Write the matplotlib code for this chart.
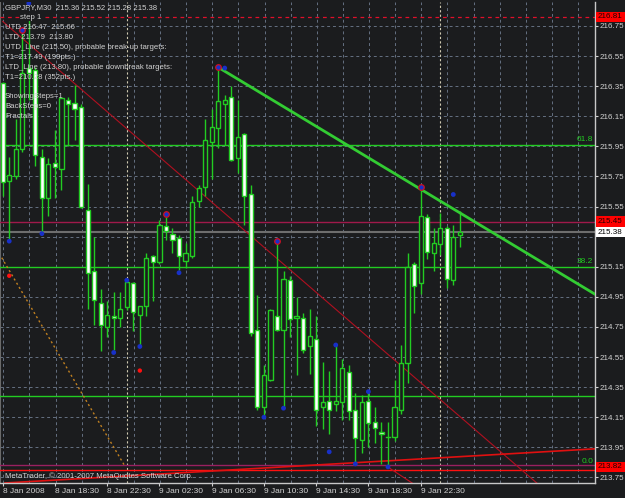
import matplotlib
matplotlib.use('Agg')
import matplotlib.pyplot as plt
from matplotlib.patches import Rectangle
from matplotlib.transforms import blended_transform_factory

# ---------------- data ----------------
opens = [216.37, 215.72, 215.75, 215.93, 216.47, 216.46, 215.88, 215.61, 215.84, 215.80,
         216.26, 216.24, 216.21, 215.53, 215.12, 214.91, 214.75, 214.82, 214.81, 214.88,
         215.04, 214.83, 214.89, 215.22, 215.18, 215.42, 215.37, 215.34, 215.19, 215.22,
         215.59, 215.68, 215.98, 216.07, 216.23, 216.28, 215.87, 216.03, 215.63, 214.73,
         214.22, 214.40, 214.82, 214.73, 215.06, 214.81, 214.81, 214.62, 214.67, 214.22,
         214.26, 214.24, 214.25, 214.45, 214.20, 214.00, 214.26, 214.12, 214.05, 214.02,
         214.02, 214.20, 214.51, 215.17, 215.04, 215.48, 215.24, 215.30, 215.41, 215.06,
         215.36]
highs = [216.38, 215.88, 216.13, 216.70, 216.81, 216.48, 215.93, 215.87, 216.06, 216.28,
         216.28, 216.36, 216.23, 215.70, 215.35, 215.00, 214.92, 214.98, 214.98, 215.06,
         215.05, 214.89, 215.24, 215.23, 215.46, 215.48, 215.41, 215.36, 215.31, 215.62,
         215.69, 216.13, 216.20, 216.48, 216.29, 216.35, 216.26, 216.04, 215.69, 214.96,
         214.50, 214.87, 215.31, 215.12, 215.09, 214.95, 214.84, 214.87, 214.82, 214.52,
         214.46, 214.63, 214.54, 214.50, 214.31, 214.30, 214.31, 214.22, 214.12, 214.12,
         214.40, 214.63, 215.24, 215.18, 215.66, 215.50, 215.41, 215.51, 215.42, 215.43,
         215.52]
lows = [215.62, 215.33, 215.73, 215.91, 216.26, 215.82, 215.38, 215.49, 215.61, 215.66,
        215.95, 215.99, 215.54, 214.87, 214.76, 214.59, 214.68, 214.60, 214.75, 214.86,
        214.72, 214.63, 214.82, 214.92, 215.17, 215.33, 215.24, 215.13, 215.14, 215.21,
        215.55, 215.62, 215.73, 215.94, 215.96, 215.85, 215.77, 215.43, 214.69, 214.20,
        214.16, 214.39, 214.72, 214.21, 214.68, 214.43, 214.58, 214.44, 214.09, 214.07,
        214.04, 214.19, 214.13, 214.13, 213.84, 213.91, 213.95, 213.98, 213.84, 213.83,
        213.99, 214.17, 214.38, 214.84, 214.97, 215.20, 215.12, 215.23, 215.01, 215.03,
        215.28]
closes = [215.71, 215.76, 215.93, 216.44, 216.44, 215.89, 215.61, 215.83, 215.81, 216.27,
          216.23, 216.20, 215.55, 215.11, 214.93, 214.76, 214.83, 214.81, 214.87, 215.05,
          214.85, 214.89, 215.21, 215.18, 215.43, 215.39, 215.33, 215.22, 215.24, 215.58,
          215.67, 215.99, 216.08, 216.25, 216.26, 215.86, 216.01, 215.62, 214.71, 214.22,
          214.43, 214.86, 214.73, 215.07, 214.80, 214.82, 214.60, 214.69, 214.20, 214.25,
          214.20, 214.26, 214.48, 214.19, 214.01, 214.25, 214.11, 214.08, 214.04, 214.02,
          214.22, 214.51, 215.15, 215.02, 215.49, 215.25, 215.31, 215.41, 215.07, 215.35,
          215.38]

time_tick_idx = [0, 8, 16, 24, 32, 40, 48, 56, 64]
time_tick_labels = ["8 Jan 2008", "8 Jan 18:30", "8 Jan 22:30", "9 Jan 02:30", "9 Jan 06:30",
                    "9 Jan 10:30", "9 Jan 14:30", "9 Jan 18:30", "9 Jan 22:30"]
price_grid = [216.75, 216.55, 216.35, 216.15, 215.95, 215.75, 215.55, 215.35, 215.15,
              214.95, 214.75, 214.55, 214.35, 214.15, 213.95, 213.75]
price_labels = [p for p in price_grid if p != 215.35]
day_separators = [19, 67]

# fractal markers
ring_idx = [3, 25, 33, 42, 64]
ring_px = [216.72, 215.50, 216.48, 215.32, 215.68]
blue_idx = [4, 1, 6, 17, 19, 21, 27, 34, 40, 43, 50, 51, 54, 56, 59, 69]
blue_px = [216.90, 215.32, 215.37, 214.58, 215.06, 214.62, 215.11, 216.47, 214.15, 214.21,
           213.92, 214.63, 213.84, 214.32, 213.82, 215.63]
red_idx = [1, 21]
red_px = [215.09, 214.46]

# horizontal levels
step_level = 216.81
fib_levels = {"61.8": 215.96, "38.2": 215.15, "0.0": 213.82}
extra_green_level = 214.29
utd_level = 215.45
bid_level = 215.38
ltd_level = 213.80

# trend lines (x1, p1, x2, p2)
utd_line = (33, 216.475, 64, 215.665)
ltd_diag = (0, 216.78, 80, 213.78)
rising_red = (0.35, 213.713, 90.7, 213.94)
steep_red = (59.3, 213.81, 62.8, 213.71)
orange_line = (-0.15, 215.21, 18.7, 213.826)

info_lines = ["UTD 216.47  215.66", "LTD 213.79  213.80",
              "UTD_Line (215.50), probable break-up targets:", "T1=217.49 (199pts.)",
              "LTD_Line (213.80), probable downbreak targets:", "T1=210.28 (352pts.)"]
info2_lines = ["ShowingSteps=1", "BackSteps=0", "Fractals"]

# ---------------- style ----------------
BG = '#1b1c1e'
GREEN = '#22cc22'
TXT = '#d2d2d2'
FONT = 'Liberation Sans'
W, H = 625, 498

fig = plt.figure(figsize=(W / 100, H / 100), dpi=100)
fig.patch.set_facecolor(BG)
ax = fig.add_axes([0 / W, (H - 483) / H, 595 / W, (483 - 2) / H])
ax.set_facecolor(BG)
ax.set_xlim(-0.413, 90.70)
ax.set_ylim(213.713, 216.909)

for s in ['top', 'left']:
    ax.spines[s].set_visible(False)
ax.spines['right'].set_color('#c8c8c8')
ax.spines['bottom'].set_color('#c8c8c8')
ax.spines['right'].set_linewidth(1)
ax.spines['bottom'].set_linewidth(1)
ax.axvline(-0.413, color='#6a6a6a', lw=1.5)

# grid
for p in price_grid:
    ax.axhline(p, color='#657082', lw=0.7, dashes=(3, 3), zorder=1)
for i in range(0, 92, 4):
    ax.axvline(i + 0.1, color='#657082', lw=0.7, dashes=(3, 3), zorder=1)
for d in day_separators:
    ax.axvline(d, color='#cfc9b0', lw=0.8, dashes=(2, 2), zorder=1)

# horizontal levels
ax.axhline(step_level, color='#e0102a', lw=0.9, dashes=(3, 3), zorder=2)
for name, p in fib_levels.items():
    if name != "0.0":
        ax.axhline(p, color=GREEN, lw=1.0, zorder=2)
ax.axhline(extra_green_level, color=GREEN, lw=1.0, zorder=2)
ax.axhline(utd_level, color='#a0194b', lw=1.0, zorder=2)
ax.axhline(bid_level, color='#6e6e6e', lw=1.5, zorder=2)
ax.axhline(fib_levels["0.0"] + 0.01, color='#9a2060', lw=1.0, zorder=2)
ax.axhline(ltd_level, color='#ff1010', lw=1.0, zorder=2)

# trend lines
def tl(line, **kw):
    ax.plot([line[0], line[2]], [line[1], line[3]], **kw)

def extend(line, x_end):
    x1, p1, x2, p2 = line
    slope = (p2 - p1) / (x2 - x1)
    return (x1, p1, x_end, p1 + slope * (x_end - x1))

tl(extend(ltd_diag, 90.7), color='#b01020', lw=0.8, zorder=2)
tl(rising_red, color='#e01010', lw=1.2, zorder=2)
tl(extend(steep_red, 70), color='#c01020', lw=0.8, zorder=2)
tl(orange_line, color='#c08020', lw=1.0, dashes=(1.5, 2), zorder=2)
tl(extend(utd_line, 90.7), color='#33cc33', lw=2.0, zorder=5)

# candles
w = 0.64
for i, (o, h, l, c) in enumerate(zip(opens, highs, lows, closes)):
    ax.plot([i, i], [l, h], color=GREEN, lw=1.0, zorder=3, solid_capstyle='butt')
    lo, hi = min(o, c), max(o, c)
    if hi - lo < 0.005:
        ax.plot([i - w / 2, i + w / 2], [o, o], color=GREEN, lw=1.0, zorder=4)
    else:
        fc = 'white' if c < o else BG
        ax.add_patch(Rectangle((i - w / 2, lo), w, hi - lo, facecolor=fc,
                               edgecolor=GREEN, lw=1.0, zorder=4))

# fractals
ax.scatter(ring_idx, ring_px, s=16, facecolor='#1830c8', edgecolor='#d01020', lw=0.9, zorder=6)
ax.scatter(blue_idx, blue_px, s=12, facecolor='#1830c8', edgecolor='none', zorder=6)
ax.scatter(red_idx, red_px, s=10, facecolor='#ff1010', edgecolor='none', zorder=6)

# fib labels
trans = blended_transform_factory(ax.transAxes, ax.transData)
for name, p in fib_levels.items():
    ax.text(0.997, p + 0.012, name, transform=trans, ha='right', va='bottom',
            color=GREEN, fontsize=6, family=FONT, zorder=7)

# axes ticks
ax.yaxis.tick_right()
ax.set_yticks(price_labels)
ax.set_yticklabels([f"{p:.2f}" for p in price_labels])
ax.tick_params(axis='y', colors=TXT, labelsize=5.8, length=2, width=0.8, pad=1, labelcolor=TXT)
ax.set_xticks(time_tick_idx)
ax.set_xticklabels(time_tick_labels)
ax.tick_params(axis='x', colors=TXT, labelsize=6.0, length=2, width=0.8, pad=1.5, labelcolor=TXT)
for lab in ax.get_xticklabels():
    lab.set_ha('left')
    lab.set_family(FONT)
for lab in ax.get_yticklabels():
    lab.set_family(FONT)

# price boxes on the right
def pbox(p, fc, tc):
    ax.annotate(f"{p:.2f}", xy=(1.0, p), xycoords=trans, xytext=(3, 0),
                textcoords='offset pixels', ha='left', va='center', fontsize=5.8,
                family=FONT, color=tc, annotation_clip=False,
                bbox=dict(boxstyle='square,pad=0.22', fc=fc, ec='none'), zorder=8)

pbox(step_level, '#ff0000', '#200000')
pbox(utd_level, '#ff0000', '#200000')
pbox(bid_level, '#ffffff', '#000000')
pbox(fib_levels["0.0"], '#ff0000', '#200000')

# text block
def ftxt(x, y, s, **kw):
    fig.text(x / W, 1 - y / H, s, ha='left', va='center', color=TXT, fontsize=5.6,
             family=FONT, **kw)

ftxt(5, 8, "GBPJPY,M30  215.36 215.52 215.28 215.38")
ftxt(20, 17.5, "step 1", bbox=dict(boxstyle='square,pad=0.05', fc=BG, ec='none'))
for k, s in enumerate(info_lines):
    ftxt(5, 27.5 + 10 * k, s)
for k, s in enumerate(info2_lines):
    ftxt(5, 96 + 10 * k, s)
ftxt(5, 476, "MetaTrader, \u00a9 2001-2007 MetaQuotes Software Corp.")

fig.savefig('out.png', dpi=100, facecolor=BG)
